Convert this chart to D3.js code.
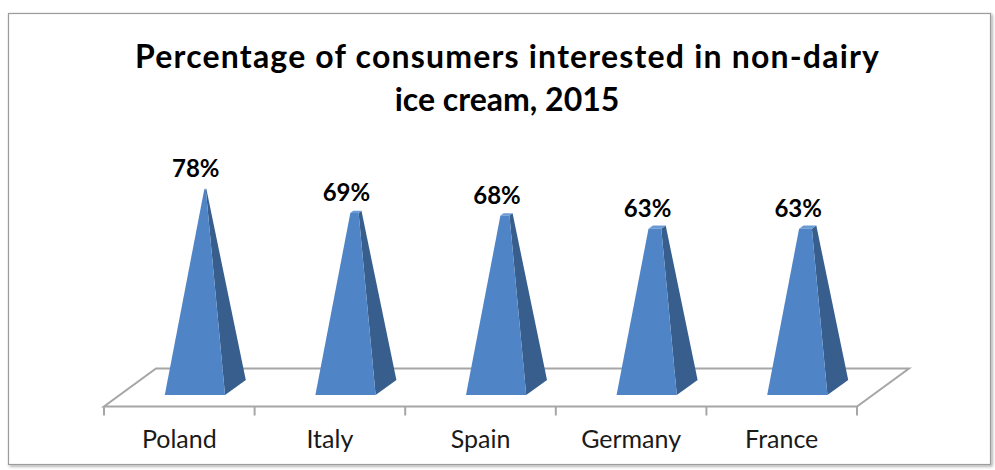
<!DOCTYPE html>
<html>
<head>
<meta charset="utf-8">
<script src="https://cdn.jsdelivr.net/npm/d3@7"></script>
<style>
  html, body { margin: 0; padding: 0; background: #ffffff; }
  svg { display: block; }
</style>
</head>
<body>
<svg id="chart" width="995" height="470"></svg>
<script>
// Survey data
const categories = ["Poland", "Italy", "Spain", "Germany", "France"];
const values = [78, 69, 68, 63, 63];
const valueLabels = ["78%", "69%", "68%", "63%", "63%"];
const titleLines = ["Percentage of consumers interested in non-dairy", "ice cream, 2015"];
const axisMax = 80;

const svg = d3.select("#chart");

// Oblique 3D projection of the floor
const floorY = 406.5;     // front edge of the floor
const depthDx = 52;       // screen shift across the full depth
const depthDy = 38;
const project = (x, d, h) => [x + d * depthDx, floorY - d * depthDy - h];

const x = d3.scaleBand().domain(categories).range([104, 857]).paddingInner(0).paddingOuter(0);
const hScale = d3.scaleLinear().domain([0, axisMax]).range([0, 203.6]);

// Chart frame with soft shadow
const defs = svg.append("defs");
const sh = defs.append("filter").attr("id", "shadow").attr("x", "-5%").attr("y", "-5%").attr("width", "110%").attr("height", "110%");
sh.append("feDropShadow").attr("dx", 1.5).attr("dy", 1.5).attr("stdDeviation", 1.5).attr("flood-color", "#000").attr("flood-opacity", 0.35);

svg.append("rect")
  .attr("x", 8.5).attr("y", 13.5).attr("width", 982).attr("height", 451)
  .attr("fill", "#ffffff").attr("stroke", "#9c9c9c").attr("stroke-width", 1.2)
  .attr("filter", "url(#shadow)");

// Title
const title = svg.append("text")
  .attr("text-anchor", "middle")
  .attr("font-family", "Lato, 'Open Sans', sans-serif")
  .attr("font-weight", "bold")
  .attr("font-size", 32)
  .attr("fill", "#000");
title.selectAll("tspan").data(titleLines).join("tspan")
  .attr("x", 507)
  .attr("y", (d, i) => 68 + i * 43)
  .attr("textLength", (d, i) => i === 0 ? 744 : null)
  .attr("lengthAdjust", "spacing")
  .text(d => d);

// Floor
const [x0, x1] = x.range();
const floorPts = [project(x0, 0, 0), project(x1, 0, 0), project(x1, 1, 0), project(x0, 1, 0)];
svg.append("path")
  .attr("d", d3.line()(floorPts) + "Z")
  .attr("fill", "none")
  .attr("stroke", "#a6a6a6")
  .attr("stroke-width", 2);

// Category ticks at band edges
const edges = categories.map(c => x(c)).concat([x1]);
svg.append("g").selectAll("line").data(edges).join("line")
  .attr("x1", d => d).attr("x2", d => d)
  .attr("y1", floorY).attr("y2", floorY + 9)
  .attr("stroke", "#a6a6a6").attr("stroke-width", 2);

// Pyramids, truncated at each value
const g = svg.append("g");
const line = d3.line();
categories.forEach((c, i) => {
  const v = values[i];
  const cx = x(c) + x.bandwidth() / 2;
  const bw = x.bandwidth() * 0.2;
  const bd = 0.2;
  const t = 1 - v / axisMax;
  const h = hScale(v);
  const bFL = project(cx - bw, 0.5 - bd, 0);
  const bFR = project(cx + bw, 0.5 - bd, 0);
  const bBR = project(cx + bw, 0.5 + bd, 0);
  const tFL = project(cx - bw * t, 0.5 - bd * t, h);
  const tFR = project(cx + bw * t, 0.5 - bd * t, h);
  const tBR = project(cx + bw * t, 0.5 + bd * t, h);
  const tBL = project(cx - bw * t, 0.5 + bd * t, h);

  g.append("path").attr("d", line([bFR, bBR, tBR, tFR]) + "Z").attr("fill", "#375e8c");
  g.append("path").attr("d", line([tFL, tFR, tBR, tBL]) + "Z").attr("fill", "#6a9ad6");
  g.append("path").attr("d", line([bFL, bFR, tFR, tFL]) + "Z").attr("fill", "#4f85c6");

  g.append("text")
    .attr("x", cx + 16.5)
    .attr("y", tFL[1] - 12)
    .attr("text-anchor", "middle")
    .attr("font-family", "Lato, 'Open Sans', sans-serif")
    .attr("font-weight", "bold")
    .attr("font-size", 24)
    .attr("fill", "#000")
    .text(valueLabels[i]);
});

// Category labels
svg.append("g").selectAll("text").data(categories).join("text")
  .attr("x", d => x(d) + x.bandwidth() / 2)
  .attr("y", 448)
  .attr("text-anchor", "middle")
  .attr("font-family", "Lato, 'Open Sans', sans-serif")
  .attr("font-size", 25)
  .attr("fill", "#1a1a1a")
  .text(d => d);
</script>
</body>
</html>
